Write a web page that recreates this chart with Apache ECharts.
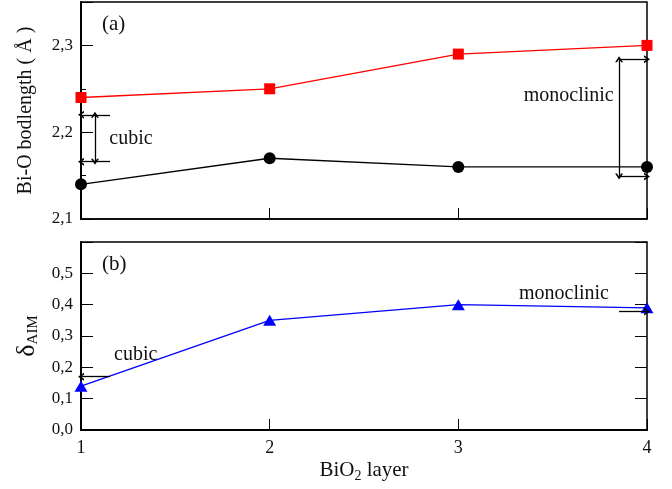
<!DOCTYPE html>
<html>
<head>
<meta charset="utf-8">
<script src="https://cdn.jsdelivr.net/npm/echarts@6/dist/echarts.min.js"></script>
<style>html,body{margin:0;padding:0;background:#fff;}#c{width:672px;height:489px;}</style>
</head>
<body>
<div id="c"></div>
<script>
// ---- data ----
const layers = [1, 2, 3, 4];
const bondRed = [2.24, 2.25, 2.29, 2.30];
const bondBlack = [2.14, 2.17, 2.16, 2.16];
const deltaAIM = [0.14, 0.35, 0.40, 0.39];
const xTickLabels = ['1', '2', '3', '4'];
const yTicksA = [2.1, 2.2, 2.3];
const yTicksB = [0.0, 0.1, 0.2, 0.3, 0.4, 0.5];
// annotation anchor values (data space)
const cubicA = [1.154, 2.22, 2.166, 1.074];      // xStart, yTop, yBottom, xVertical
const monoA = [3.852, 2.284, 2.149];             // xStart/xVertical, yTop, yBottom
const cubicB = [1.154, 0.17];
const monoB = [3.852, 0.378];
const textCubicA = [1.265, 2.193];
const textMonoA = [3.585, 2.242];
const textCubicB = [1.29, 0.241];
const textMonoB = [3.56, 0.434];

const FONT = 'Liberation Serif';
const chev = 'path://M0,10 L5,0 L10,10 L7.6,10 L5,4.6 L2.4,10 Z';
const lineStyleAnn = { color: '#000', width: 1.3, type: 'solid' };

function pairs(xs, ys) { return xs.map((x, i) => [x, ys[i]]); }
function fmtComma(v) { return v.toFixed(1).replace('.', ','); }
function txt(coord, text) {
  return { coord: coord, value: text, symbol: 'circle', symbolSize: 1,
    itemStyle: { color: 'rgba(0,0,0,0)' },
    label: { show: true, position: 'inside', formatter: text, color: '#111', fontFamily: FONT, fontSize: 20 } };
}
function arrow(p1, p2, both) {
  return [{ coord: p1, symbol: both ? chev : 'none' }, { coord: p2, symbol: chev }];
}

const chart = echarts.init(document.getElementById('c'), null, { renderer: 'canvas' });
const grids = [
  { left: 81, right: 25, top: 2, height: 217, show: true, borderColor: '#000', borderWidth: 1.5, outerBoundsMode: 'none', containLabel: false },
  { left: 81, right: 25, top: 242, height: 188, show: true, borderColor: '#000', borderWidth: 1.5, outerBoundsMode: 'none', containLabel: false }
];
const option = {
  animation: false,
  backgroundColor: '#fff',
  grid: grids,
  xAxis: [
    { type: 'value', gridIndex: 0, min: 1, max: 4, interval: 1, position: 'bottom',
      axisLine: { show: true, lineStyle: { color: '#000', width: 1.5 } },
      axisTick: { show: true, inside: true, length: 11, lineStyle: { color: '#000', width: 1 } },
      axisLabel: { show: false }, splitLine: { show: false } },
    { type: 'value', gridIndex: 1, min: 1, max: 4, interval: 1, position: 'bottom',
      axisLine: { show: true, lineStyle: { color: '#000', width: 2 } },
      axisTick: { show: true, inside: true, length: 11, lineStyle: { color: '#000', width: 1 } },
      axisLabel: { show: true, margin: 9, color: '#111', fontFamily: FONT, fontSize: 18,
        formatter: v => xTickLabels[layers.indexOf(Math.round(v))] || '' },
      splitLine: { show: false },
      name: 'BiO{s|2} layer', nameLocation: 'middle', nameGap: 27,
      nameTextStyle: { color: '#111', fontFamily: FONT, fontSize: 21,
        rich: { s: { fontSize: 14, fontFamily: FONT, color: '#111', padding: [12, 0, 0, 0] } } } }
  ],
  yAxis: [
    { type: 'value', gridIndex: 0, min: 2.1, max: 2.35, interval: 0.1, position: 'left',
      axisLine: { show: true, lineStyle: { color: '#000', width: 2 } },
      axisTick: { show: true, inside: true, length: 12, lineStyle: { color: '#000', width: 1 } },
      axisLabel: { show: true, margin: 8, color: '#111', fontFamily: FONT, fontSize: 17,
        formatter: v => yTicksA.some(t => Math.abs(t - v) < 1e-6) ? fmtComma(v) : '' },
      splitLine: { show: false },
      name: 'Bi-O bodlength ( Å )', nameLocation: 'middle', nameGap: 45,
      nameTextStyle: { color: '#111', fontFamily: FONT, fontSize: 20 } },
    { type: 'value', gridIndex: 0, min: 2.1, max: 2.35, interval: 0.05, position: 'left',
      axisLine: { show: false },
      axisTick: { show: true, inside: true, length: 5, lineStyle: { color: '#000', width: 1 } },
      axisLabel: { show: false }, splitLine: { show: false } },
    { type: 'value', gridIndex: 1, min: 0, max: 0.6, interval: 0.1, position: 'left',
      axisLine: { show: true, lineStyle: { color: '#000', width: 2 } },
      axisTick: { show: true, inside: true, length: 12, lineStyle: { color: '#000', width: 1 } },
      axisLabel: { show: true, margin: 8, color: '#111', fontFamily: FONT, fontSize: 17,
        formatter: v => yTicksB.some(t => Math.abs(t - v) < 1e-6) ? fmtComma(v) : '' },
      splitLine: { show: false },
      name: 'δ{s|AIM}', nameLocation: 'middle', nameGap: 40,
      nameTextStyle: { color: '#111', fontFamily: FONT, fontSize: 26,
        rich: { s: { fontSize: 15, fontFamily: FONT, color: '#111', padding: [12, 0, 0, 0] } } } },
    { type: 'value', gridIndex: 1, min: 0, max: 0.6, interval: 0.1, position: 'right',
      axisLine: { show: false },
      axisTick: { show: true, inside: true, length: 12, lineStyle: { color: '#000', width: 1 } },
      axisLabel: { show: false }, splitLine: { show: false } }
  ],
  graphic: [
    { type: 'text', left: 102, top: 14, style: { text: '(a)', fontFamily: FONT, fontSize: 21, fill: '#111' } },
    { type: 'text', left: 102, top: 254, style: { text: '(b)', fontFamily: FONT, fontSize: 21, fill: '#111' } }
  ],
  series: [
    { type: 'line', xAxisIndex: 0, yAxisIndex: 0, data: pairs(layers, bondRed),
      symbol: 'rect', symbolSize: 11, clip: false,
      itemStyle: { color: '#ff0000' }, lineStyle: { color: '#ff0000', width: 1.3 },
      markLine: { silent: true, symbolSize: [8, 6], label: { show: false }, lineStyle: lineStyleAnn,
        data: [
          arrow([cubicA[0], cubicA[1]], [1, cubicA[1]]),
          arrow([cubicA[0], cubicA[2]], [1, cubicA[2]]),
          arrow([cubicA[3], cubicA[1]], [cubicA[3], cubicA[2]], true),
          arrow([monoA[0], monoA[1]], [4, monoA[1]]),
          arrow([monoA[0], monoA[2]], [4, monoA[2]]),
          arrow([monoA[0], monoA[1]], [monoA[0], monoA[2]], true)
        ] },
      markPoint: { silent: true, data: [txt(textCubicA, 'cubic'), txt(textMonoA, 'monoclinic')] } },
    { type: 'line', xAxisIndex: 0, yAxisIndex: 0, data: pairs(layers, bondBlack),
      symbol: 'circle', symbolSize: 12, clip: false,
      itemStyle: { color: '#000' }, lineStyle: { color: '#000', width: 1.3 } },
    { type: 'line', xAxisIndex: 1, yAxisIndex: 2, data: pairs(layers, deltaAIM),
      symbol: 'triangle', symbolSize: [13, 11], clip: false,
      itemStyle: { color: '#0000ff' }, lineStyle: { color: '#0000ff', width: 1.3 },
      markLine: { silent: true, symbolSize: [8, 6], label: { show: false }, lineStyle: lineStyleAnn,
        data: [
          arrow([cubicB[0], cubicB[1]], [1, cubicB[1]]),
          arrow([monoB[0], monoB[1]], [4, monoB[1]])
        ] },
      markPoint: { silent: true, data: [txt(textCubicB, 'cubic'), txt(textMonoB, 'monoclinic')] } }
  ]
};
chart.setOption(option);
</script>
</body>
</html>
